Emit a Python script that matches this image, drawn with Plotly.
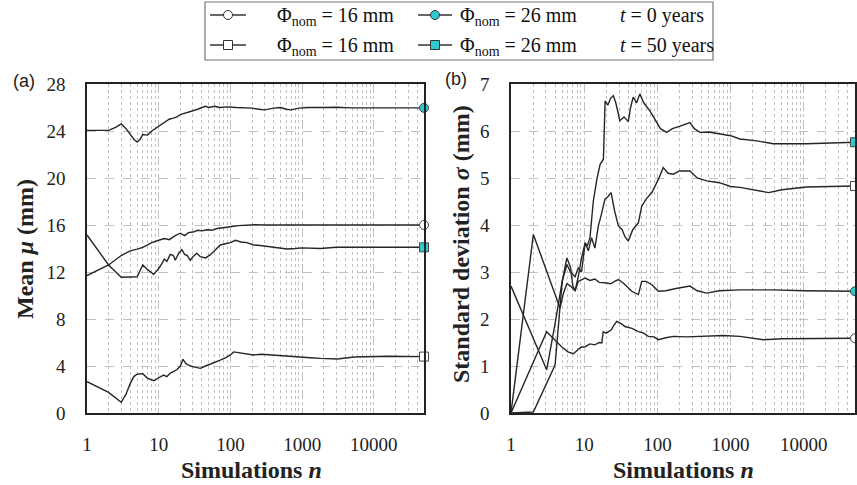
import math
import plotly.graph_objects as go

# ---------------- data: panel (a) mean ----------------
n_mean_16_t0 = [1, 2, 3, 4, 5, 6, 7, 8, 10, 12, 14, 17, 20, 23, 26, 30, 35, 40, 47, 55, 65, 80, 100, 130, 170,
                220, 300, 500, 1000, 3000, 10000, 50000]
mean_16_t0 = [11.7, 12.6, 13.4, 13.8, 13.95, 14.1, 14.3, 14.5, 14.7, 14.85, 14.75, 15.1, 15.3, 15.1, 15.35, 15.4,
              15.55, 15.5, 15.6, 15.55, 15.7, 15.8, 15.85, 15.95, 16.0, 16.02, 16.0, 16.0, 16.02, 16.0, 16.0, 16.0]

n_mean_26_t0 = [1, 2, 2.5, 3, 3.5, 4, 4.5, 5, 5.5, 6, 7, 8, 9, 10, 11, 12, 14, 16, 18, 20, 23, 26, 30, 35, 40, 45,
                50, 60, 70, 90, 120, 160, 200, 250, 300, 400, 500, 600, 700, 900, 1200, 2000, 3000, 5000, 50000]
mean_26_t0 = [24.05, 24.05, 24.3, 24.6, 24.2, 23.7, 23.3, 23.05, 23.3, 23.7, 23.65, 24.0, 24.2, 24.4, 24.6, 24.7,
              25.0, 25.1, 25.2, 25.4, 25.5, 25.6, 25.75, 25.85, 26.0, 26.1, 26.0, 26.1, 26.0, 26.05, 26.0, 26.0,
              25.95, 25.85, 25.8, 25.95, 26.0, 25.85, 25.8, 25.95, 26.0, 26.0, 26.02, 25.97, 25.97]

n_mean_16_t50 = [1, 2, 3, 3.5, 4, 4.5, 5, 6, 7, 8.6, 10, 11.7, 13, 14.5, 16, 18, 20, 21.8, 24, 27.6, 32, 38, 45,
                 50, 58, 72, 85, 100, 111, 130, 160, 210, 270, 350, 450, 620, 900, 1300, 1800, 3100, 5300, 15500,
                 50000]
mean_16_t50 = [2.67, 1.75, 0.91, 1.6, 2.5, 3.1, 3.3, 3.35, 2.95, 2.75, 3.0, 3.23, 3.1, 3.4, 3.52, 3.7, 4.0, 4.57,
               4.2, 4.0, 3.9, 3.8, 4.0, 4.1, 4.23, 4.5, 4.7, 4.94, 5.2, 5.15, 5.05, 4.94, 5.0, 4.95, 4.85, 4.8,
               4.75, 4.7, 4.65, 4.6, 4.77, 4.83, 4.8]

n_mean_26_t50 = [1, 2, 3, 4, 5, 6, 7, 8.5, 10, 11, 12, 13, 14.5, 16, 17, 19, 21, 23, 25, 27.5, 30, 34, 38, 45, 52,
                 60, 72, 85, 100, 117, 140, 170, 210, 260, 360, 450, 620, 800, 1000, 1800, 3000, 50000]
mean_26_t50 = [15.15, 12.6, 11.55, 11.55, 11.6, 12.6, 12.2, 11.8, 12.3, 12.7, 13.1, 12.9, 13.5, 13.4, 13.0, 13.6,
               13.9, 13.5, 13.4, 13.0, 13.3, 13.6, 13.3, 13.2, 13.45, 13.8, 14.3, 14.4, 14.5, 14.7, 14.55, 14.5,
               14.3, 14.25, 14.15, 14.1, 13.96, 14.0, 14.05, 14.0, 14.1, 14.1]

# ---------------- data: panel (b) standard deviation ----------------
n_sd_16_t0 = [1, 3.07, 4, 5, 6, 7.1, 8, 9, 10.3, 12, 14, 16, 17.4, 18.2, 20, 23.5, 25, 27.8, 32, 36, 45, 55, 65,
              75, 90, 103, 130, 165, 250, 470, 800, 1340, 2000, 2800, 5000, 50000]
sd_16_t0 = [0, 1.73, 1.55, 1.4, 1.3, 1.26, 1.33, 1.4, 1.41, 1.47, 1.45, 1.5, 1.49, 1.73, 1.7, 1.77, 1.85, 1.95,
            1.9, 1.84, 1.8, 1.73, 1.7, 1.63, 1.62, 1.56, 1.6, 1.63, 1.62, 1.63, 1.65, 1.63, 1.6, 1.56, 1.58, 1.59]

n_sd_26_t0 = [1, 2.02, 4.68, 5.2, 5.8, 6.5, 7.5, 8.3, 10.3, 12, 14, 16, 19.2, 23, 26, 29.3, 35, 44.7, 55, 61, 70,
              84, 103, 130, 180, 278, 350, 470, 700, 1340, 2500, 3820, 10000, 50000]
sd_26_t0 = [0, 3.8, 2.23, 2.55, 2.75, 2.7, 2.6, 2.8, 2.87, 2.82, 2.85, 2.78, 2.77, 2.75, 2.8, 2.84, 2.75, 2.59,
            2.52, 2.8, 2.8, 2.73, 2.59, 2.6, 2.65, 2.7, 2.6, 2.55, 2.6, 2.62, 2.62, 2.62, 2.6, 2.59]

n_sd_16_t50 = [1, 3.07, 4, 5, 5.8, 6.5, 7.5, 8.3, 9.2, 10.3, 11.4, 12.6, 14, 15.6, 17, 19.2, 21, 23.3, 26, 29.3,
               33, 36, 40, 46, 55, 61, 70, 84, 103, 120, 140, 165, 200, 278, 350, 470, 700, 1000, 1340, 2000, 3300,
               5000, 10900, 50000]
sd_16_t50 = [2.7, 0.92, 1.9, 2.8, 3.16, 3.0, 2.9, 3.09, 3.0, 3.62, 3.45, 3.73, 3.51, 3.98, 4.2, 4.55, 4.6, 4.69,
             4.3, 3.98, 3.9, 3.75, 3.66, 3.9, 4.05, 4.4, 4.55, 4.69, 4.97, 5.22, 5.1, 5.08, 5.15, 5.15, 5.0, 4.94,
             4.9, 4.82, 4.8, 4.75, 4.69, 4.75, 4.81, 4.83]

n_sd_26_t50 = [1, 2.02, 4, 4.5, 5, 5.8, 6.5, 7, 7.5, 8.3, 9.2, 10.3, 11, 12, 13.3, 15, 16.5, 18.3, 19.3, 21, 23,
               25, 27, 30.7, 35, 40, 43, 46.6, 52, 57.6, 65, 79, 95, 110, 134, 160, 200, 278, 320, 380, 500, 800,
               1000, 1340, 2270, 3820, 10900, 50000]
sd_26_t50 = [0, 0.02, 1.02, 2.0, 2.8, 3.3, 3.1, 2.7, 2.6, 2.9, 3.3, 3.62, 3.55, 3.73, 4.5, 5.0, 5.29, 5.4, 6.64,
             6.55, 6.7, 6.75, 6.6, 6.22, 6.3, 6.2, 6.5, 6.72, 6.6, 6.79, 6.6, 6.43, 6.2, 6.05, 5.97, 6.05, 6.1,
             6.18, 6.05, 5.97, 5.98, 5.93, 5.9, 5.83, 5.79, 5.73, 5.73, 5.76]

x_tick_vals = [1, 10, 100, 1000, 10000]
x_tick_text = ["1", "10", "100", "1000", "10000"]
y_ticks_a = [0, 4, 8, 12, 16, 20, 24, 28]
y_ticks_b = [0, 1, 2, 3, 4, 5, 6, 7]

# ---------------- styling ----------------
W, H = 857, 485
LINE = "#262626"
CYAN = "#2fc9cf"
SERIF = "Liberation Serif, Times New Roman, serif"
GRID = "#c0c0c0"


def px(x):
    return x / W


def py(y):
    return 1 - y / H


series = [
    (n_mean_16_t0, mean_16_t0, "circle", "white", ""),
    (n_mean_26_t0, mean_26_t0, "circle", CYAN, ""),
    (n_mean_16_t50, mean_16_t50, "square", "white", ""),
    (n_mean_26_t50, mean_26_t50, "square", CYAN, ""),
    (n_sd_16_t0, sd_16_t0, "circle", "white", "2"),
    (n_sd_26_t0, sd_26_t0, "circle", CYAN, "2"),
    (n_sd_16_t50, sd_16_t50, "square", "white", "2"),
    (n_sd_26_t50, sd_26_t50, "square", CYAN, "2"),
]

fig = go.Figure()
for n, v, sym, fill, ax in series:
    fig.add_trace(go.Scatter(x=n, y=v, mode="lines", line=dict(color=LINE, width=1.4),
                             xaxis="x" + ax, yaxis="y" + ax, showlegend=False, hoverinfo="skip"))
    fig.add_trace(go.Scatter(x=[n[-1]], y=[v[-1]], mode="markers",
                             marker=dict(symbol=sym, size=9, color=fill, line=dict(color="#444", width=1)),
                             xaxis="x" + ax, yaxis="y" + ax, showlegend=False, cliponaxis=False))

xr = [0, math.log10(50000)]

xcommon = dict(type="log", range=xr, tickvals=x_tick_vals, ticktext=x_tick_text, ticks="",
               showgrid=True, gridcolor=GRID, griddash="dash", gridwidth=1, automargin=False,
               minor=dict(dtick="D1", showgrid=True, gridcolor=GRID, griddash="dot", gridwidth=1, ticks=""),
               showline=True, mirror=True, linecolor="#222", linewidth=1.6,
               tickfont=dict(family=SERIF, size=19, color="#222"), ticklabelstandoff=13, zeroline=False)
ycommon = dict(ticks="", showgrid=True, gridcolor=GRID, griddash="dash", gridwidth=1, automargin=False,
               showline=True, mirror=True, linecolor="#222", linewidth=1.6, zeroline=False,
               tickfont=dict(family=SERIF, size=19, color="#222"), ticklabelstandoff=16)

ydom = [py(413), py(84)]
fig.update_layout(
    width=W, height=H, margin=dict(l=0, r=0, t=0, b=0, autoexpand=False),
    paper_bgcolor="white", plot_bgcolor="white", showlegend=False,
    xaxis=dict(domain=[px(87), px(424)], anchor="y", **xcommon),
    yaxis=dict(domain=ydom, anchor="x", range=[0, 28], tickvals=y_ticks_a, **ycommon),
    xaxis2=dict(domain=[px(511), px(855)], anchor="y2", **xcommon),
    yaxis2=dict(domain=ydom, anchor="x2", range=[0, 7], tickvals=y_ticks_b, **ycommon),
)

C = dict(xref="paper", yref="paper", showarrow=False, xanchor="center", yanchor="middle")
ann = []
title_font = dict(family=SERIF, size=24, color="#222", weight="bold")
ann.append(dict(text="<b>Simulations <i>n</i></b>", x=px(252), y=py(470), font=title_font, **C))
ann.append(dict(text="<b>Simulations <i>n</i></b>", x=px(683), y=py(470), font=title_font, **C))
ann.append(dict(text="<b>Mean <i>μ</i> (mm)</b>", x=px(25), y=py(249), textangle=-90, font=title_font, **C))
ann.append(dict(text="<b>Standard deviation <i>σ</i> (mm)</b>", x=px(461), y=py(244), textangle=-90,
                font=title_font, **C))
ann.append(dict(text="(a)", x=px(24), y=py(81), font=dict(family="Liberation Sans, Arial", size=18,
                                                           color="#222"), **C))
ann.append(dict(text="(b)", x=px(456), y=py(79), font=dict(family="Liberation Sans, Arial", size=18,
                                                            color="#222"), **C))

# ---------------- manual legend ----------------
shapes = []
box_l, box_r, box_t, box_b = 205, 713, 2, 60
shapes.append(dict(type="rect", xref="paper", yref="paper", x0=px(box_l), x1=px(box_r), y0=py(box_b),
                   y1=py(box_t), line=dict(color="#777", width=1.2), fillcolor="white", layer="above"))
leg_font = dict(family=SERIF, size=20, color="#111")
L = dict(xref="paper", yref="paper", showarrow=False, xanchor="left", yanchor="middle")
rows = [(15, "circle", "0"), (45, "square", "50")]
for yrow, kind, years in rows:
    for (xl, xr_, fill, label_x, dia) in [(210, 246, "white", 275, "16"), (418, 452, CYAN, 458, "26")]:
        shapes.append(dict(type="line", xref="paper", yref="paper", x0=px(xl), x1=px(xr_), y0=py(yrow),
                           y1=py(yrow), line=dict(color="#333", width=1.3), layer="above"))
        xc = (xl + xr_) / 2
        shapes.append(dict(type="circle" if kind == "circle" else "rect", xref="paper", yref="paper",
                           xsizemode="pixel", ysizemode="pixel", xanchor=px(xc), yanchor=py(yrow),
                           x0=-4.5, x1=4.5, y0=-4.5, y1=4.5, fillcolor=fill,
                           line=dict(color="#333", width=1), layer="above"))
        ann.append(dict(text=f"Φ<sub>nom</sub> = {dia} mm", x=px(label_x), y=py(yrow + 2), font=leg_font, **L))
    ann.append(dict(text=f"<i>t</i> = {years} years", x=px(618), y=py(yrow), font=leg_font, **L))

fig.update_layout(annotations=ann, shapes=shapes)
fig.write_html("out.html", config={"displayModeBar": False},
               post_script="document.body.style.margin='0px';document.body.style.padding='0px';")
